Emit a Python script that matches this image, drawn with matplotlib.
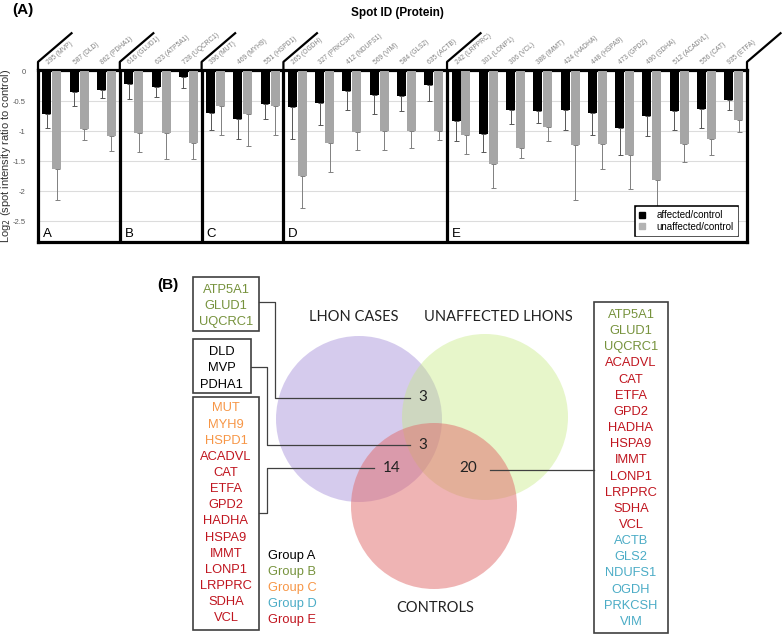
import matplotlib.pyplot as plt
import numpy as np
from matplotlib.patches import Circle, Rectangle, Patch
import matplotlib.patheffects as pe

plt.rcParams['font.family'] = ['Liberation Sans', 'DejaVu Sans']

##----------------------------------------------------------------------------##
## Data : panel A (log2 spot intensity ratios, one-sided error bars)

groups = ['A', 'B', 'C', 'D', 'E']
group_spots = [
    ['295 (MVP)', '587 (DLD)', '862 (PDHA1)'],
    ['616 (GLUD1)', '623 (ATP5A1)', '728 (UQCRC1)'],
    ['396 (MUT)', '469 (MYH9)', '551 (HSPD1)'],
    ['265 (OGDH)', '327 (PRKCSH)', '412 (NDUFS1)', '569 (VIM)', '584 (GLS2)', '635 (ACTB)'],
    ['242 (LRPPRC)', '301 (LONP1)', '306 (VCL)', '388 (IMMT)', '424 (HADHA)', '448 (HSPA9)',
     '473 (GPD2)', '490 (SDHA)', '512 (ACADVL)', '556 (CAT)', '935 (ETFA)'],
]
affected = [-0.71, -0.35, -0.31,
            -0.21, -0.26, -0.10,
            -0.70, -0.79, -0.54,
            -0.59, -0.53, -0.33, -0.40, -0.41, -0.23,
            -0.83, -1.05, -0.64, -0.66, -0.65, -0.70, -0.95, -0.75, -0.66, -0.63, -0.47]
affected_sd = [0.24, 0.22, 0.14,
               0.25, 0.16, 0.18,
               0.28, 0.34, 0.25,
               0.53, 0.37, 0.31, 0.31, 0.25, 0.26,
               0.33, 0.30, 0.24, 0.20, 0.32, 0.36, 0.44, 0.33, 0.32, 0.32, 0.18]
unaffected = [-1.63, -0.96, -1.08,
              -1.02, -1.03, -1.20,
              -0.58, -0.71, -0.58,
              -1.74, -1.20, -1.01, -0.99, -0.99, -0.99,
              -1.06, -1.55, -1.27, -0.93, -1.22, -1.21, -1.39, -1.81, -1.21, -1.13, -0.81]
unaffected_sd = [0.52, 0.18, 0.25,
                 0.33, 0.43, 0.26,
                 0.48, 0.54, 0.48,
                 0.53, 0.47, 0.30, 0.32, 0.28, 0.15,
                 0.32, 0.39, 0.18, 0.23, 0.92, 0.42, 0.57, 0.80, 0.30, 0.27, 0.20]

## Data : panel B (Venn diagram)
set_names = ['LHON CASES', 'UNAFFECTED LHONS', 'CONTROLS']
venn_counts = ['3', '3', '14', '20']
box_lhon_unaff = ['ATP5A1', 'GLUD1', 'UQCRC1']
box_all = ['DLD', 'MVP', 'PDHA1']
box_lhon_ctrl = ['MUT', 'MYH9', 'HSPD1', 'ACADVL', 'CAT', 'ETFA', 'GPD2', 'HADHA',
                 'HSPA9', 'IMMT', 'LONP1', 'LRPPRC', 'SDHA', 'VCL']
box_unaff_ctrl = ['ATP5A1', 'GLUD1', 'UQCRC1', 'ACADVL', 'CAT', 'ETFA', 'GPD2', 'HADHA',
                  'HSPA9', 'IMMT', 'LONP1', 'LRPPRC', 'SDHA', 'VCL', 'ACTB', 'GLS2',
                  'NDUFS1', 'OGDH', 'PRKCSH', 'VIM']
group_colors = ['#000000', '#76923c', '#f79646', '#4bacc6', '#c0151f']

##----------------------------------------------------------------------------##
## Figure

fig = plt.figure(figsize=(7.84, 6.36), dpi=100)

# overlay axes in pixel units for panel B
ov = fig.add_axes([0, 0, 1, 1], zorder=-1)
ov.set_xlim(0, 784)
ov.set_ylim(636, 0)
ov.axis('off')

## Panel A
ax = fig.add_axes([38/784, 1 - 242/636, 709/784, 172/636])
labels = [s for g in group_spots for s in g]
n = len(labels)
x = np.arange(n)

ax.bar(x - 0.17, affected, 0.33, color='black', zorder=3)
ax.bar(x + 0.195, unaffected, 0.33, color='#a6a6a6', zorder=3)
ax.errorbar(x - 0.17, affected, yerr=[affected_sd, np.zeros(n)], fmt='none',
            ecolor='#555555', elinewidth=0.7, capsize=1.8, capthick=0.7, zorder=2)
ax.errorbar(x + 0.195, unaffected, yerr=[unaffected_sd, np.zeros(n)], fmt='none',
            ecolor='#808080', elinewidth=0.7, capsize=1.8, capthick=0.7, zorder=2)

ax.set_xlim(-0.5, n - 0.5)
ax.set_ylim(-2.842, 0.025)
ax.set_xticks([])
ax.set_yticks([0, -0.5, -1, -1.5, -2, -2.5])
ax.set_yticklabels(['0', '-0.5', '-1', '-1.5', '-2', '-2.5'])
ax.tick_params(axis='y', length=0, pad=9, labelsize=5.5, labelcolor='#595959')
ax.yaxis.grid(True, color='#dcdcdc', lw=0.8)
ax.set_axisbelow(True)
for sp in ax.spines.values():
    sp.set_linewidth(2.3)

# y label placed by hand (the tick pad would push it off the figure)
fig.text(6/784, 1 - 156/636, 'Log$_2$ (spot intensity ratio to control)', rotation=90,
         ha='center', va='center', fontsize=8, color='#333333')

# group borders, brackets, group letters
borders = [-0.5]
for g in group_spots:
    borders.append(borders[-1] + len(g))
for b in borders[1:-1]:
    ax.axvline(b, color='black', lw=2.3, zorder=4)
for b in borders:
    ax.plot([b, b, b + 1.26], [0.025, 0.16, 0.65], color='black', lw=1.6,
            clip_on=False, solid_capstyle='butt')
for g, b in zip(groups, borders[:-1]):
    ax.text(b + 0.17, -2.76, g, fontsize=9.5, va='baseline', ha='left', zorder=5)

for i, lab in enumerate(labels):
    ax.text(i - 0.12, 0.12, lab, rotation=40, rotation_mode='anchor', ha='left',
            va='baseline', fontsize=4.8, color='#808080', clip_on=False)

leg = ax.legend(handles=[Patch(color='black', label='affected/control'),
                         Patch(color='#b3b3b3', label='unaffected/control')],
                loc='lower right', bbox_to_anchor=(0.986, 0.041), borderaxespad=0,
                fontsize=7, handlelength=0.6, handleheight=0.6, handletextpad=1.2,
                labelspacing=0.15, borderpad=0.35, fancybox=False, framealpha=1)
leg.set_zorder(6)
frame = leg.get_frame()
frame.set_edgecolor('black')
frame.set_path_effects([pe.Stroke(linewidth=2.6, foreground='black'),
                        pe.Stroke(linewidth=1.0, foreground='white')])

fig.text(397/784, 1 - 13/636, 'Spot ID (Protein)', ha='center', va='center',
         fontsize=8.5, fontweight='bold')
fig.text(12/784, 1 - 10/636, '(A)', ha='left', va='center', fontsize=11, fontweight='bold')

## Panel B : Venn
circ_xy = [(359, 419), (485, 417), (434, 506)]
circ_col = ['#9c84d6', '#c6ea82', '#e06a6a']
circ_alpha = [0.42, 0.42, 0.5]
for (cx, cy), c, a in zip(circ_xy, circ_col, circ_alpha):
    ov.add_patch(Circle((cx, cy), 83, facecolor=c, alpha=a, edgecolor='none'))

vfont = ['Lato', 'DejaVu Sans']
ov.text(354, 317, set_names[0], ha='center', va='center', fontsize=10.5, family=vfont, color='#222222')
ov.text(498, 317, set_names[1], ha='center', va='center', fontsize=10.5, family=vfont, color='#222222')
ov.text(435, 608, set_names[2], ha='center', va='center', fontsize=10.5, family=vfont, color='#222222')

count_xy = [(423, 397), (423, 445), (392, 468), (468, 468)]
for (cx, cy), t in zip(count_xy, venn_counts):
    ov.text(cx, cy, t, ha='center', va='center', fontsize=11, family=vfont, color='#222222')

# protein -> group colour from panel A
prot_group = {}
for gi, g in enumerate(group_spots):
    for s in g:
        prot_group[s.split('(')[1].rstrip(')')] = gi

def draw_box(names, x0, x1, y0, y1, first_base):
    ov.add_patch(Rectangle((x0, y0), x1 - x0, y1 - y0, fill=False, edgecolor='#404040', lw=1.2))
    for k, nm in enumerate(names):
        ov.text((x0 + x1) / 2, first_base + k * 16.15, nm, ha='center', va='baseline',
                fontsize=9.3, color=group_colors[prot_group[nm]])

draw_box(box_lhon_unaff, 192.7, 259.3, 276.7, 330.7, 292.8)
draw_box(box_all, 192.7, 250.7, 339.3, 393.3, 355.2)
draw_box(box_lhon_ctrl, 192.7, 259.3, 396.7, 630, 411.4)
draw_box(box_unaff_ctrl, 594.3, 667.7, 302.3, 632.7, 318.0)

# connector lines
lc = dict(color='#404040', lw=0.9)
ov.plot([259.3, 275, 275, 410], [301.7, 301.7, 398.3, 398.3], **lc)
ov.plot([250.7, 266.7, 266.7, 410], [366.7, 366.7, 445, 445], **lc)
ov.plot([259.3, 266.7, 266.7, 374], [512.7, 512.7, 468.3, 468.3], **lc)
ov.plot([490, 594.3], [470, 470], **lc)

# group legend
for k, (g, c) in enumerate(zip(groups, group_colors)):
    ov.text(268.3, 559 + k * 16.1, 'Group ' + g, ha='left', va='baseline', fontsize=9.3, color=c)

ov.text(157, 285, '(B)', ha='left', va='center', fontsize=11, fontweight='bold')

plt.savefig('out.png', dpi=100)
